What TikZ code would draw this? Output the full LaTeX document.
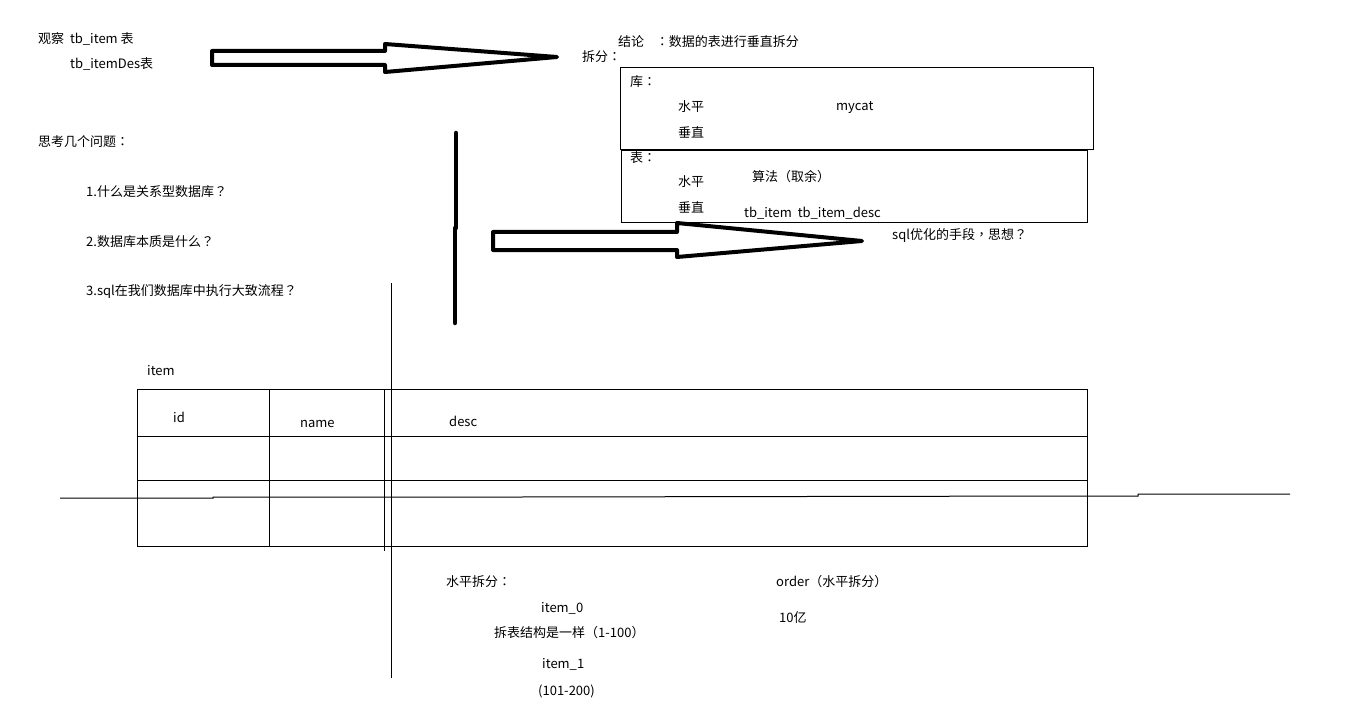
\documentclass[tikz,border=0pt]{standalone}
\usepackage{fontspec}
\setmainfont{Noto Sans CJK SC}
\newfontfamily\tcfont{Noto Sans CJK TC}
\newcommand{\pcolon}{{\tcfont ：}}
\newcommand{\pques}{{\tcfont ？}}
\newcommand{\pcomma}{{\tcfont ，}}
\newcommand{\plp}{{\tcfont （}}
\newcommand{\prp}{{\tcfont ）}}
\begin{document}
\begin{tikzpicture}[x=1pt,y=-1pt,
  txt/.style={anchor=west,inner sep=0pt,font=\fontsize{13}{15}\selectfont},
  bigarrow/.style={draw,line width=4pt,line join=round},
  thick line/.style={line width=4.5pt,line cap=round},
  thin/.style={line width=1pt}]
\useasboundingbox (0,0) rectangle (1360,722);
% top-left texts
\node[txt] (obs) at (38,39) {观察~~tb\_item 表};
\node[txt] (des) at (70,64) {tb\_itemDes表};
% arrow 1
\draw[bigarrow] (212,51)--(385,51)--(385,44)--(557,57)--(385,72)--(385,65)--(212,65)--cycle;
\node[txt] (split) at (582,57) {拆分\pcolon};
\node[txt] (concl) at (618,42) {结论~~~~\pcolon 数据的表进行垂直拆分};
% boxes
\node[draw,thin,minimum width=473,minimum height=82,anchor=north west,inner sep=0pt] (box1) at (620,67) {};
\node[draw,thin,minimum width=466,minimum height=72,anchor=north west,inner sep=0pt] (box2) at (621,150) {};
\node[txt] (ku) at (630,82) {库\pcolon};
\node[txt] (kuh) at (678,107) {水平};
\node[txt] (mycat) at (836,107) {mycat};
\node[txt] (kuv) at (678,132) {垂直};
\node[txt] (biao) at (630,158) {表\pcolon};
\node[txt] (bh) at (678,182) {水平};
\node[txt] (alg) at (752,177) {算法\plp 取余\prp};
\node[txt] (bv) at (678,207) {垂直};
\node[txt] (tbs) at (744,213) {tb\_item~~tb\_item\_desc};
% arrow 2
\draw[bigarrow] (493,232)--(677,232)--(677,223)--(862,241)--(677,257)--(677,250)--(493,250)--cycle;
\node[txt] (sqlopt) at (892,235) {sql优化的手段\pcomma 思想\pques};
% questions
\node[txt] (think) at (38,142) {思考几个问题\pcolon};
\node[txt] (q1) at (86,192) {1.什么是关系型数据库\pques};
\node[txt] (q2) at (86,242) {2.数据库本质是什么\pques};
\node[txt] (q3) at (86,292) {3.sql在我们数据库中执行大致流程\pques};
% thick vertical
\coordinate (va) at (456,133);
\coordinate (vb) at (456,228);
\coordinate (vc) at (455,228);
\coordinate (vd) at (455,323);
\draw[thick line] (va)--(vb);
\draw[thick line] (vc)--(vd);
% long thin vertical
\coordinate (la) at (391,283);
\coordinate (lb) at (391,678);
\draw[thin] (la)--(lb);
% table
\node[txt] (item) at (147,371) {item};
\draw[thin] (137,389) rectangle (1087,546);
\draw[thin] (137,436)--(1087,436);
\draw[thin] (137,480)--(1087,480);
\draw[thin] (269,389)--(269,547);
\draw[thin] (384,389)--(384,551);
\draw[thin] (60,498)--(213,498)--(213,497)--(521,497)--(1090,496)--(1138,496)--(1138,494)--(1290,494);
\node[txt] (id) at (173,417) {id};
\node[txt] (name) at (300,424) {name};
\node[txt] (desc) at (449,421) {desc};
% bottom texts
\node[txt] (hs) at (446,582) {水平拆分\pcolon};
\node[txt] (i0) at (541,608) {item\_0};
\node[txt] (same) at (494,633) {拆表结构是一样\plp 1-100\prp};
\node[txt] (i1) at (542,664) {item\_1};
\node[txt] (r2) at (538,691) {(101-200)};
\node[txt] (order) at (776,582) {order\plp 水平拆分\prp};
\node[txt] (bil) at (779,618) {10亿};
\end{tikzpicture}
\end{document}
